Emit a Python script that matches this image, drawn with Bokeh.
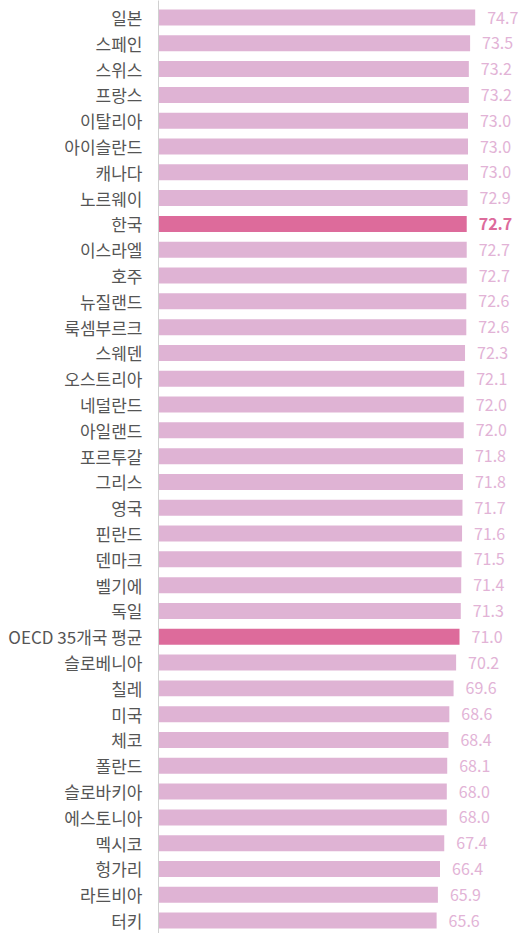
from bokeh.plotting import figure
from bokeh.models import ColumnDataSource, Range1d, FixedTicker
from bokeh.core.properties import value
from bokeh.embed import file_html
from bokeh.resources import INLINE

countries = ["일본", "스페인", "스위스", "프랑스", "이탈리아", "아이슬란드", "캐나다", "노르웨이",
             "한국", "이스라엘", "호주", "뉴질랜드", "룩셈부르크", "스웨덴", "오스트리아", "네덜란드",
             "아일랜드", "포르투갈", "그리스", "영국", "핀란드", "덴마크", "벨기에", "독일",
             "OECD 35개국 평균", "슬로베니아", "칠레", "미국", "체코", "폴란드", "슬로바키아",
             "에스토니아", "멕시코", "헝가리", "라트비아", "터키"]
values = [74.7, 73.5, 73.2, 73.2, 73.0, 73.0, 73.0, 72.9,
          72.7, 72.7, 72.7, 72.6, 72.6, 72.3, 72.1, 72.0,
          72.0, 71.8, 71.8, 71.7, 71.6, 71.5, 71.4, 71.3,
          71.0, 70.2, 69.6, 68.6, 68.4, 68.1, 68.0,
          68.0, 67.4, 66.4, 65.9, 65.6]
highlight = ["한국", "OECD 35개국 평균"]

LIGHT = "#dfb3d4"
DARK = "#dd6b9b"

idx = list(range(len(countries)))
bar_colors = [DARK if c in highlight else LIGHT for c in countries]
labels = [f"{v:.1f}" for v in values]

src_norm = ColumnDataSource(dict(
    y=[i for i, c in zip(idx, countries) if c != "한국"],
    x=[v for v, c in zip(values, countries) if c != "한국"],
    t=[l for l, c in zip(labels, countries) if c != "한국"],
))
src_kor = ColumnDataSource(dict(
    y=[i for i, c in zip(idx, countries) if c == "한국"],
    x=[v for v, c in zip(values, countries) if c == "한국"],
    t=[l for l, c in zip(labels, countries) if c == "한국"],
))
bars = ColumnDataSource(dict(y=idx, right=values, color=bar_colors))

p = figure(width=526, height=933, output_backend="svg", toolbar_location=None,
           x_range=Range1d(0, 86.8), y_range=Range1d(start=35.50, end=-0.659),
           min_border_left=158, min_border_right=0, min_border_top=0, min_border_bottom=0)
p.outline_line_color = None
p.grid.grid_line_color = None
p.xaxis.visible = False

p.hbar(y="y", left=0, right="right", height=0.62, color="color", line_color=None, source=bars)

p.text(x="x", y="y", text="t", source=src_norm, x_offset=12,
       text_align="left", text_baseline="middle", text_font=value("Noto Sans CJK KR"),
       text_font_size="16px", text_color="#e2b3d6")
p.text(x="x", y="y", text="t", source=src_kor, x_offset=12,
       text_align="left", text_baseline="middle", text_font=value("Noto Sans CJK KR"),
       text_font_size="16px", text_color=DARK, text_font_style="bold")

ya = p.yaxis[0]
ya.ticker = FixedTicker(ticks=idx)
ya.major_label_overrides = {i: c for i, c in zip(idx, countries)}
ya.major_tick_line_color = None
ya.minor_tick_line_color = None
ya.axis_line_color = "#d0d0d0"
ya.major_label_text_font = "Noto Sans CJK KR"
ya.major_label_text_font_size = "17px"
ya.major_label_text_color = "#555555"
ya.major_label_standoff = 10

open("out.html", "w").write(file_html(p, INLINE))
